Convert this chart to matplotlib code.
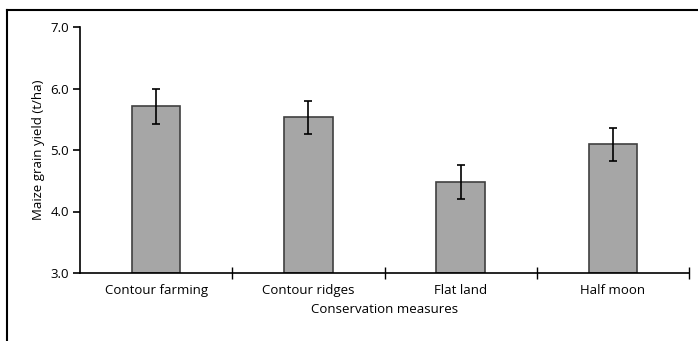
import numpy as np
import matplotlib.pyplot as plt
from matplotlib.lines import Line2D

categories = ['Contour farming', 'Contour ridges', 'Flat land', 'Half moon']
yields = [5.71, 5.53, 4.48, 5.09]
errors = [0.28, 0.27, 0.27, 0.27]
yticks = [3.0, 4.0, 5.0, 6.0, 7.0]

plt.rcParams['font.family'] = ['Open Sans', 'DejaVu Sans']

fig = plt.figure(figsize=(6.98, 3.41), dpi=100)
ax = fig.add_axes([80/698, 68/341, 609/698, 246/341])

x = np.arange(len(categories))
ax.bar(x, [v - 3.0 for v in yields], bottom=3.0, width=0.32,
       color='#a6a6a6', edgecolor='#404040', linewidth=1.2, zorder=2)
ax.errorbar(x, yields, yerr=errors, fmt='none', ecolor='black',
            elinewidth=1.2, capsize=3, capthick=1.2, zorder=3)

ax.set_xlim(-0.5, 3.5)
ax.set_ylim(3.0, 7.0)
ax.set_yticks(yticks)
ax.set_yticklabels([f'{t:.1f}' for t in yticks], fontsize=9.5)
ax.set_xticks(x)
ax.set_xticklabels(categories, fontsize=9.5)
ax.set_xticks(np.arange(0.5, len(categories), 1.0), minor=True)
ax.tick_params(axis='x', which='major', length=0, pad=8)
ax.tick_params(axis='x', which='minor', direction='inout', length=8, width=1)
ax.tick_params(axis='y', direction='out', length=5, width=1.2, pad=3)

for side in ['top', 'right']:
    ax.spines[side].set_visible(False)
ax.spines['left'].set_linewidth(1.2)
ax.spines['bottom'].set_linewidth(1.2)

ax.set_ylabel('Maize grain yield (t/ha)', fontsize=9.5)
ax.set_xlabel('Conservation measures', fontsize=9.5, labelpad=4)

# frame of the original figure (only top and left edges are visible)
x0, y0 = 7 / 698, 1 - 9.5 / 341
fig.add_artist(Line2D([x0, 1.0], [y0, y0], transform=fig.transFigure,
                      color='black', linewidth=1.5))
fig.add_artist(Line2D([x0, x0], [0.0, y0], transform=fig.transFigure,
                      color='black', linewidth=1.5))

fig.savefig('out.png', dpi=100)
